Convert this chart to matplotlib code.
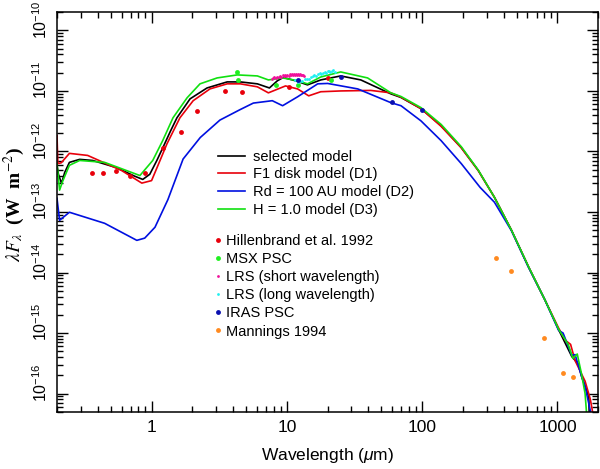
import numpy as np
import matplotlib
matplotlib.use('Agg')
import matplotlib.pyplot as plt
from matplotlib import ticker
import matplotlib.transforms as mtransforms

plt.rcParams['font.family'] = ['Liberation Sans', 'DejaVu Sans']
plt.rcParams['mathtext.fontset'] = 'custom'
plt.rcParams['mathtext.rm'] = 'Liberation Sans'
plt.rcParams['mathtext.it'] = 'Liberation Sans:italic'
plt.rcParams['font.size'] = 11

# --- models (wavelength in micron, lambda F_lambda in W m^-2)
wl_sel = [0.2, 0.205, 0.216, 0.228, 0.247, 0.294, 0.367, 0.552, 0.751, 0.861, 0.97, 1.094, 1.213, 1.37,
          1.54, 1.925, 2.57, 3.62, 4.53, 6.05, 7.43, 8.5, 9.4, 11.6, 14.2, 17.8, 25, 35.2, 58.7, 69.7,
          98, 138, 194.5, 260, 342, 457, 611, 804, 1021, 1275, 1420, 1510, 1650, 1703, 1720]
f_sel = [5.9e-13, 4.2e-13, 2.97e-13, 4.5e-13, 6.6e-13, 7.4e-13, 7.1e-13, 5.4e-13, 3.9e-13, 3.45e-13, 4.2e-13,
         7.1e-13, 1.16e-12, 2.1e-12, 3.6e-12, 7.4e-12, 1.12e-11, 1.41e-11, 1.41e-11, 1.31e-11, 1.12e-11,
         1.47e-11, 1.67e-11, 1.47e-11, 1.26e-11, 1.52e-11, 1.77e-11, 1.52e-11, 8.95e-12, 7.8e-12,
         5.1e-12, 2.67e-12, 1.16e-12, 4.85e-13, 1.75e-13, 5.0e-14, 1.23e-14, 3.6e-15, 1.13e-15, 4.1e-16,
         3.1e-16, 1.9e-16, 1.1e-16, 9e-17, 4e-17]

wl_d1 = [0.2, 0.203, 0.215, 0.247, 0.337, 0.6, 0.847, 1.0, 1.155, 1.3, 1.62, 2.03, 2.7, 3.62, 4.53, 6.05,
         7.3, 9.77, 12, 14.5, 17.8, 25, 41.7, 58.7, 69.7, 98, 138, 194.5, 260, 342, 457, 611, 804, 1021,
         1150, 1250, 1350, 1600, 1750, 1850]
f_d1 = [1.83e-12, 6.3e-13, 6.5e-13, 9.3e-13, 8.6e-13, 4.85e-13, 3.0e-13, 3.3e-13, 7.1e-13, 1.34e-12, 3.6e-12,
        6.9e-12, 1.08e-11, 1.31e-11, 1.31e-11, 1.17e-11, 9.3e-12, 1.21e-11, 1.08e-11, 8.3e-12, 9.7e-12,
        1.0e-11, 1.02e-11, 9.3e-12, 7.9e-12, 5.1e-12, 2.6e-12, 1.15e-12, 4.8e-13, 1.75e-13, 5.0e-14,
        1.25e-14, 3.6e-15, 1.2e-15, 7.5e-16, 6.5e-16, 3.5e-16, 1.6e-16, 8e-17, 4e-17]

wl_d2 = [0.2, 0.209, 0.247, 0.45, 0.778, 0.89, 1.06, 1.32, 1.71, 2.29, 3.2, 4.5, 5.65, 7.8, 9.3, 12.0,
         16.9, 20, 33.4, 58.7, 69.7, 98, 138, 194.5, 268, 342, 457, 611, 804, 1021, 1100, 1275, 1350,
         1510, 1600, 1795]
f_d2 = [1.68e-13, 7.3e-14, 9.9e-14, 6.5e-14, 3.4e-14, 3.7e-14, 5.6e-14, 1.6e-13, 7.5e-13, 1.7e-12, 3.3e-12,
        4.9e-12, 6.3e-12, 6.9e-12, 5.7e-12, 8.0e-12, 1.31e-11, 1.33e-11, 1.08e-11, 6.4e-12, 5.7e-12,
        3.2e-12, 1.51e-12, 6.3e-13, 2.55e-13, 1.45e-13, 4.9e-14, 1.22e-14, 3.6e-15, 1.1e-15, 1.0e-15,
        4.3e-16, 4.4e-16, 1.9e-16, 1.3e-16, 4e-17]

wl_d3 = [0.2, 0.209, 0.22, 0.247, 0.294, 0.45, 0.82, 1.02, 1.21, 1.44, 1.83, 2.28, 3.05, 4.3, 6.05, 7.3,
         9.3, 11.6, 14.2, 17.8, 25, 39.5, 58.7, 69.7, 98, 138, 194.5, 260, 342, 457, 611, 804, 1021, 1200,
         1300, 1400, 1500, 1600, 1650]
f_d3 = [6.3e-13, 2.3e-13, 3.2e-13, 5.9e-13, 7.1e-13, 6.6e-13, 4.0e-13, 7.1e-13, 1.52e-12, 3.6e-12, 7.7e-12,
        1.31e-11, 1.64e-11, 1.84e-11, 1.77e-11, 1.52e-11, 1.64e-11, 1.5e-11, 1.31e-11, 1.7e-11, 2.06e-11,
        1.64e-11, 9.3e-12, 8.1e-12, 5.3e-12, 2.8e-12, 1.2e-12, 4.9e-13, 1.75e-13, 5.0e-14, 1.25e-14,
        3.6e-15, 1.15e-15, 6.5e-16, 3.8e-16, 4.5e-16, 2.2e-16, 1e-16, 4e-17]

# --- observations
wl_hil = [0.36, 0.44, 0.55, 0.69, 0.89, 1.21, 1.65, 2.17, 3.5, 4.68, 10.3, 20]
f_hil = [4.33e-13, 4.33e-13, 4.67e-13, 4.0e-13, 4.33e-13, 1.16e-12, 2.12e-12, 4.7e-12, 1.0e-11, 9.7e-12,
         1.17e-11, 1.64e-11]

wl_msx = [4.29, 4.35, 8.28, 12.13, 21.3]
f_msx = [2.06e-11, 1.52e-11, 1.26e-11, 1.26e-11, 1.52e-11]

wl_lrs_s = [7.7, 7.9, 8.1, 8.3, 8.5, 8.7, 8.9, 9.1, 9.3, 9.5, 9.7, 9.9, 10.1, 10.3, 10.5, 10.7, 10.9,
            11.1, 11.3, 11.5, 11.7, 11.9, 12.1, 12.3, 12.5, 12.7, 12.9, 13.1, 13.3]
f_lrs_s = [1.58e-11, 1.62e-11, 1.7e-11, 1.64e-11, 1.72e-11, 1.68e-11, 1.77e-11, 1.7e-11, 1.8e-11, 1.74e-11,
           1.82e-11, 1.76e-11, 1.86e-11, 1.78e-11, 1.9e-11, 1.82e-11, 1.88e-11, 1.8e-11, 1.92e-11, 1.84e-11,
           1.9e-11, 1.83e-11, 1.93e-11, 1.86e-11, 1.9e-11, 1.84e-11, 1.8e-11, 1.86e-11, 1.78e-11]

wl_lrs_l = [11.5, 12.0, 12.5, 13.0, 13.5, 14.0, 14.5, 15.0, 15.5, 16.0, 16.5, 17.0, 17.5, 18.0, 18.5, 19.0,
            19.5, 20.0, 20.5, 21.0, 21.5, 22.0, 22.5]
f_lrs_l = [1.5e-11, 1.42e-11, 1.48e-11, 1.45e-11, 1.55e-11, 1.6e-11, 1.58e-11, 1.7e-11, 1.75e-11, 1.82e-11,
           1.78e-11, 1.9e-11, 1.95e-11, 1.88e-11, 2.0e-11, 2.05e-11, 1.98e-11, 2.1e-11, 2.15e-11, 2.06e-11,
           2.12e-11, 2.18e-11, 2.08e-11]

wl_iras = [12, 25, 60, 100]
f_iras = [1.52e-11, 1.7e-11, 6.6e-12, 4.9e-12]

wl_man = [350, 450, 800, 1100, 1300]
f_man = [1.73e-14, 1.06e-14, 8.4e-16, 2.2e-16, 1.9e-16]

ytick_vals = [1e-16, 1e-15, 1e-14, 1e-13, 1e-12, 1e-11, 1e-10]
ytick_labs = [r'$10^{-16}$', r'$10^{-15}$', r'$10^{-14}$', r'$10^{-13}$', r'$10^{-12}$', r'$10^{-11}$',
              r'$10^{-10}$']

c_red = '#e8000b'
c_blue = '#0010e0'
c_green = '#10e010'

fig = plt.figure(figsize=(6.0, 4.69), dpi=100)
ax = fig.add_axes([0.095, 0.122, 0.902, 0.852])

lw = 1.2
l1, = ax.loglog(wl_sel, f_sel, color='black', lw=lw, label='selected model')
l2, = ax.loglog(wl_d1, f_d1, color=c_red, lw=lw, label='F1 disk model (D1)')
l3, = ax.loglog(wl_d2, f_d2, color=c_blue, lw=lw, label='Rd = 100 AU model (D2)')
l4, = ax.loglog(wl_d3, f_d3, color=c_green, lw=lw, label='H = 1.0 model (D3)')

ms = 3.5
p1, = ax.plot(wl_hil, f_hil, 'o', color=c_red, ms=ms, mew=0, label='Hillenbrand et al. 1992')
p2, = ax.plot(wl_msx, f_msx, 'o', color='#20f020', ms=ms, mew=0, label='MSX PSC')
p3, = ax.plot(wl_lrs_s, f_lrs_s, 'o', color='#f0109a', ms=2, mew=0, label='LRS (short wavelength)')
p4, = ax.plot(wl_lrs_l, f_lrs_l, 'o', color='#20f0f0', ms=2, mew=0, label='LRS (long wavelength)')
p5, = ax.plot(wl_iras, f_iras, 'o', color='#0a10b0', ms=ms, mew=0, label='IRAS PSC')
p6, = ax.plot(wl_man, f_man, 'o', color='#ff8a20', ms=ms, mew=0, label='Mannings 1994')

ax.set_xlim(0.2, 2000)
ax.set_ylim(5e-17, 2e-10)

for s in ax.spines.values():
    s.set_linewidth(1.1)
ax.tick_params(which='both', direction='in', top=True, right=True, width=1.0)
ax.tick_params(which='major', length=8, pad=6)
ax.tick_params(which='minor', length=4)
ax.tick_params(axis='x', labelsize=12.5)
ax.set_yticks(ytick_vals)
ax.set_yticklabels([])
ax.yaxis.set_minor_locator(ticker.LogLocator(base=10, subs=np.arange(2, 10), numticks=20))
ax.yaxis.set_minor_formatter(ticker.NullFormatter())
ax.xaxis.set_major_formatter(ticker.FuncFormatter(lambda v, p: '%g' % v))
ax.xaxis.set_minor_formatter(ticker.NullFormatter())

# rotated y tick labels, shifted a bit upward as in the original
ytrans = mtransforms.blended_transform_factory(ax.transAxes, ax.transData)
yoff = mtransforms.ScaledTranslation(-0.07, 0.11, fig.dpi_scale_trans)
for v, s in zip(ytick_vals, ytick_labs):
    ax.text(0, v, s, transform=ytrans + yoff, rotation=90, ha='right', va='center', fontsize=11.5)

ax.set_xlabel(r'Wavelength ($\mu$m)', fontsize=12.5, labelpad=8)
ax.set_ylabel(r'$\lambda F_\lambda$  (W  m$^{-2}$)', fontsize=14, family='Liberation Serif',
              fontweight='bold', math_fontfamily='stix')
ax.yaxis.set_label_coords(-0.056, 0.52)

leg1 = ax.legend(handles=[l1, l2, l3, l4], loc='upper left', bbox_to_anchor=(0.2976, 0.6555),
                 frameon=False, fontsize=10.5, handlelength=1.85, handletextpad=0.55,
                 labelspacing=0.25, borderpad=0, borderaxespad=0)
ax.add_artist(leg1)
ax.legend(handles=[p1, p2, p3, p4, p5, p6], loc='upper left', bbox_to_anchor=(0.2909, 0.4456),
          frameon=False, fontsize=10.5, handlelength=0.5, handletextpad=0.3,
          labelspacing=0.285, borderpad=0, borderaxespad=0)

fig.savefig('out.png', dpi=100)
